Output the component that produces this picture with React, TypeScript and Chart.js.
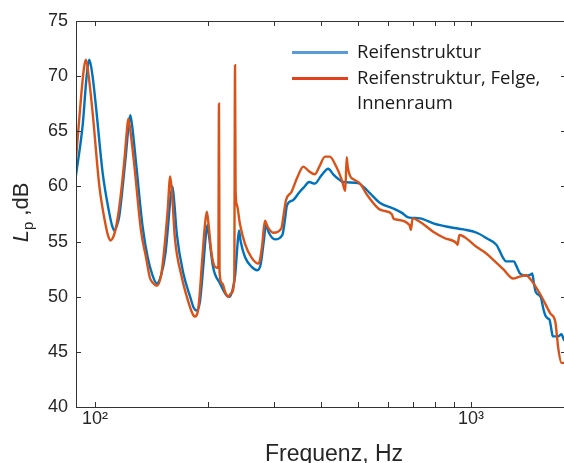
import React, { useEffect, useRef } from 'react';
import { Chart, registerables } from 'chart.js';

Chart.register(...registerables);

// ---- data (frequency in Hz, level in dB) ----
const blueCurve: [number, number][] = [
  [89, 61.0], [92.8, 65.7], [95, 70.0], [96.6, 71.5], [98.5, 70.0], [100.6, 67.2],
  [104.8, 61.2], [109.1, 57.6], [110.9, 56.5], [112.5, 56.0], [114.2, 56.4], [116, 57.3], [118.5, 60.0], [120.9, 63.0],
  [122.8, 65.5], [124.1, 66.45], [125.5, 65.5], [128.6, 62.1], [133.9, 56.3], [138, 53.6],
  [142, 52.0], [146, 51.2], [150, 52.0], [154, 54.0], [156.5, 56.5], [158.8, 59.0],
  [160.7, 60.0], [162.5, 58.5], [165, 55.7], [171.8, 52.1], [179, 50.0], [183, 49.0], [186, 48.75],
  [190, 49.5], [194, 52.7], [197, 55.5], [199, 56.5], [201, 55.5], [206, 52.7],
  [215, 51.2], [224, 50.1], [228, 50.0], [232, 50.6], [236, 52.0], [239, 54.5],
  [241.5, 56.0], [244, 55.0], [250.5, 53.6], [261, 52.7], [270, 52.4], [276, 53.0],
  [281, 55.0], [285, 56.5], [290, 55.8], [301, 55.2], [315, 55.6], [320, 57.0],
  [324, 58.3], [336, 58.75], [350, 59.5], [360, 59.95], [371, 60.4], [384, 60.25],
  [400, 61.0], [417, 61.6], [430, 61.1], [443, 60.7], [457, 60.4], [501, 60.3],
  [520, 59.9], [538, 59.4], [573, 58.5], [621, 58.0], [655, 57.6], [681, 57.2],
  [731, 57.1], [801, 56.6], [880, 56.3], [954, 56.1], [1036, 55.8], [1100, 55.3],
  [1169, 54.7], [1190, 54.2], [1218, 53.5], [1240, 53.2], [1300, 53.2], [1320, 52.8],
  [1350, 52.1], [1400, 51.9], [1440, 52.0], [1455, 52.1], [1470, 51.2], [1488, 50.4],
  [1531, 50.0], [1560, 48.8], [1577, 48.3], [1605, 48.0], [1618, 47.9], [1640, 46.8],
  [1650, 46.4], [1705, 46.4], [1740, 46.6], [1766, 46.1], [1790, 46.0],
];

const redCurve: [number, number][] = [
  [89, 62.5], [91.8, 68.1], [93.5, 70.8], [94.6, 71.5], [96.2, 70.0], [98.6, 66.6],
  [102.7, 60.0], [107, 56.3], [108.4, 55.5], [109.8, 55.1], [111.4, 55.3], [113, 55.9], [116, 58.1], [119.7, 62.4],
  [121.5, 65.0], [122.6, 66.15], [124, 65.2], [127.3, 61.8], [132.5, 56.0], [136.6, 53.6],
  [140, 51.7], [143, 51.2], [146, 51.0], [150, 52.0], [153.5, 55.0], [156, 57.8],
  [158.5, 60.9], [160.5, 59.0], [163, 55.4], [170, 51.8], [177, 49.55], [181, 48.6], [184, 48.2],
  [188, 48.8], [193, 53.6], [196, 56.5], [198.3, 57.7], [200.5, 56.5], [204, 54.0],
  [208.5, 52.7], [212.8, 52.6], [213.6, 67.5], [214.4, 52.2], [218, 51.2], [222, 50.4],
  [226, 50.0], [230, 50.3], [234.6, 51.5], [235.7, 71.0], [236.5, 59.6], [238.5, 58.3],
  [242.9, 56.6], [250.5, 54.8], [261.3, 53.5], [272.3, 53.0], [278, 54.5], [283, 56.9],
  [288, 56.3], [298, 55.8], [313, 56.2], [317, 57.3], [322, 58.75], [333, 59.5],
  [345, 60.8], [358, 61.8], [370, 61.4], [384, 61.1], [395, 61.8], [409, 62.7],
  [421, 62.7], [438, 61.8], [453, 60.6], [460, 59.8], [463, 59.6], [467, 62.65],
  [470, 61.8], [476, 61.0], [490, 60.6], [507, 60.25], [530, 59.2], [567, 58.0],
  [584, 57.8], [615, 57.5], [622, 57.1], [632, 57.0], [686, 56.5], [692, 56.05],
  [699, 57.1], [731, 56.8], [793, 55.9], [852, 55.3], [918, 54.8], [921, 54.7],
  [931, 55.6], [962, 55.4], [1036, 54.5], [1100, 53.9], [1150, 53.3], [1218, 52.5],
  [1295, 51.65], [1340, 51.8], [1400, 51.95], [1460, 51.3], [1541, 50.0], [1624, 48.5],
  [1676, 47.7], [1692, 46.5], [1705, 45.4], [1740, 44.0], [1790, 44.0],
];

const seriesLabels = ['Reifenstruktur', 'Reifenstruktur, Felge, Innenraum'];
const legendLines = [['Reifenstruktur'], ['Reifenstruktur, Felge,', 'Innenraum']];
const xTickValues = [100, 200, 300, 400, 500, 600, 700, 800, 900, 1000];
const xTickLabels: Record<number, string> = { 100: '10²', 1000: '10³' };
const yTickValues = [40, 45, 50, 55, 60, 65, 70, 75];
const X_MIN = 89;
const X_MAX = 1789;
const Y_MIN = 40;
const Y_MAX = 75;
const xTitle = 'Frequenz, Hz';
const yTitleParts = ['L', 'p', ' ,dB'];

const LINE_COLORS = ['#0072BD', '#D95319'];
const LEGEND_COLORS = ['#5b9bd8', '#e5401e'];
const AXIS_COLOR = '#262626';
const FRAME_COLOR = '#333333';
const FONT = '"Liberation Sans", Arial, Helvetica, sans-serif';
const LEGEND_FONT = '"Open Sans", sans-serif';

function drawBox(chart: any) {
  const ctx: CanvasRenderingContext2D = chart.ctx;
  const sx = chart.scales.x;
  const sy = chart.scales.y;
  const L = Math.round(sx.left);
  const R = Math.round(sx.right);
  const T = Math.round(sy.top);
  const B = Math.round(sy.bottom);
  ctx.save();
  ctx.fillStyle = FRAME_COLOR;
  ctx.fillRect(L, T, 1, B - T + 1);
  ctx.fillRect(L, B, R - L, 1);
  ctx.fillRect(L, T, R - L, 1);
  ctx.fillRect(R - 1, T, 1, B - T + 1);
  const tl = 5;
  xTickValues.forEach((v) => {
    const px = Math.round(sx.getPixelForValue(v));
    ctx.fillRect(px, B - tl, 1, tl);
    ctx.fillRect(px, T, 1, tl);
  });
  yTickValues.forEach((v) => {
    const py = Math.round(sy.getPixelForValue(v));
    ctx.fillRect(L, py, tl, 1);
    ctx.fillRect(R - tl, py, tl, 1);
  });
  ctx.restore();
}

function drawLabels(chart: any) {
  const ctx: CanvasRenderingContext2D = chart.ctx;
  ctx.save();
  // legend
  const lx0 = 292, lx1 = 348, tx = 357;
  const lineGap = 25.5;
  let row = 0;
  chart.data.datasets.forEach((_ds: any, i: number) => {
    const baseY = 58 + row * lineGap;
    ctx.fillStyle = '#1a1a1a';
    ctx.font = `18.5px ${LEGEND_FONT}`;
    ctx.textAlign = 'left';
    ctx.textBaseline = 'alphabetic';
    legendLines[i].forEach((t, j) => {
      ctx.fillText(t, tx, baseY + j * lineGap);
    });
    ctx.fillStyle = LEGEND_COLORS[i];
    ctx.fillRect(lx0, Math.round(baseY - 7), lx1 - lx0, 3);
    row += legendLines[i].length;
  });

  // x title
  ctx.fillStyle = AXIS_COLOR;
  ctx.font = `23px ${FONT}`;
  ctx.textAlign = 'center';
  ctx.textBaseline = 'alphabetic';
  ctx.fillText(xTitle, 334, 461);

  // y title
  ctx.translate(28, 212.5);
  ctx.rotate(-Math.PI / 2);
  ctx.textAlign = 'left';
  const fMain = `22px ${FONT}`;
  const fIt = `italic 22px ${FONT}`;
  const fSub = `15px ${FONT}`;
  ctx.font = fIt;
  const w0 = ctx.measureText(yTitleParts[0]).width;
  ctx.font = fSub;
  const w1 = ctx.measureText(yTitleParts[1]).width;
  ctx.font = fMain;
  const w2 = ctx.measureText(yTitleParts[2]).width;
  let x = -(w0 + w1 + w2) / 2;
  ctx.font = fIt;
  ctx.fillText(yTitleParts[0], x, 0);
  x += w0;
  ctx.font = fSub;
  ctx.fillText(yTitleParts[1], x, 5);
  x += w1;
  ctx.font = fMain;
  ctx.fillText(yTitleParts[2], x, 0);
  ctx.restore();
}

const matlabPlugin = {
  id: 'matlabStyle',
  afterDatasetsDraw(chart: any) {
    drawBox(chart);
  },
  afterDraw(chart: any) {
    drawLabels(chart);
    drawBox(chart);
  },
};

export default function App() {
  const ref = useRef<HTMLCanvasElement>(null);
  useEffect(() => {
    document.body.style.margin = '0';
    const canvas = ref.current;
    if (!canvas) return;
    const chart = new Chart(canvas, {
      type: 'line',
      data: {
        datasets: [blueCurve, redCurve].map((curve, i) => ({
          label: seriesLabels[i],
          data: curve.map(([f, v]) => ({ x: f, y: v })),
          borderColor: LINE_COLORS[i],
          borderWidth: 2.4,
          pointRadius: 0,
          cubicInterpolationMode: 'monotone',
          order: 1 - i,
        })),
      },
      options: {
        animation: false,
        responsive: false,
        devicePixelRatio: 1,
        layout: { padding: { left: 0, right: 6, top: 21, bottom: 0 } },
        plugins: { legend: { display: false }, tooltip: { enabled: false } },
        scales: {
          x: {
            type: 'logarithmic',
            min: X_MIN,
            max: X_MAX,
            grid: { display: false, drawTicks: false },
            border: { display: true, color: FRAME_COLOR, width: 1 },
            afterBuildTicks: (s: any) => {
              s.ticks = xTickValues.map((v) => ({ value: v }));
            },
            afterFit: (s: any) => {
              s.height = 56;
            },
            ticks: {
              autoSkip: false,
              maxRotation: 0,
              minRotation: 0,
              padding: 1,
              color: AXIS_COLOR,
              font: { family: FONT, size: 18 },
              callback: (v: any) => xTickLabels[Number(v)] ?? '',
            },
          },
          x2: {
            type: 'logarithmic',
            position: 'top',
            min: X_MIN,
            max: X_MAX,
            grid: { display: false, drawTicks: false },
            border: { display: true, color: FRAME_COLOR, width: 1 },
            ticks: { display: false },
            afterFit: (s: any) => {
              s.height = 0;
            },
          },
          y: {
            type: 'linear',
            min: Y_MIN,
            max: Y_MAX,
            grid: { display: false, drawTicks: false },
            border: { display: true, color: FRAME_COLOR, width: 1 },
            afterBuildTicks: (s: any) => {
              s.ticks = yTickValues.map((v) => ({ value: v }));
            },
            afterFit: (s: any) => {
              s.width = 76;
            },
            ticks: {
              padding: 8,
              color: AXIS_COLOR,
              font: { family: FONT, size: 18 },
              callback: (v: any) => String(v),
            },
          },
        },
      },
      plugins: [matlabPlugin],
    } as any);
    return () => chart.destroy();
  }, []);
  return (
    <div style={{ width: 564, height: 463, overflow: 'hidden', position: 'relative', background: '#fff' }}>
      <canvas ref={ref} width={572} height={463} style={{ display: 'block' }} />
    </div>
  );
}
